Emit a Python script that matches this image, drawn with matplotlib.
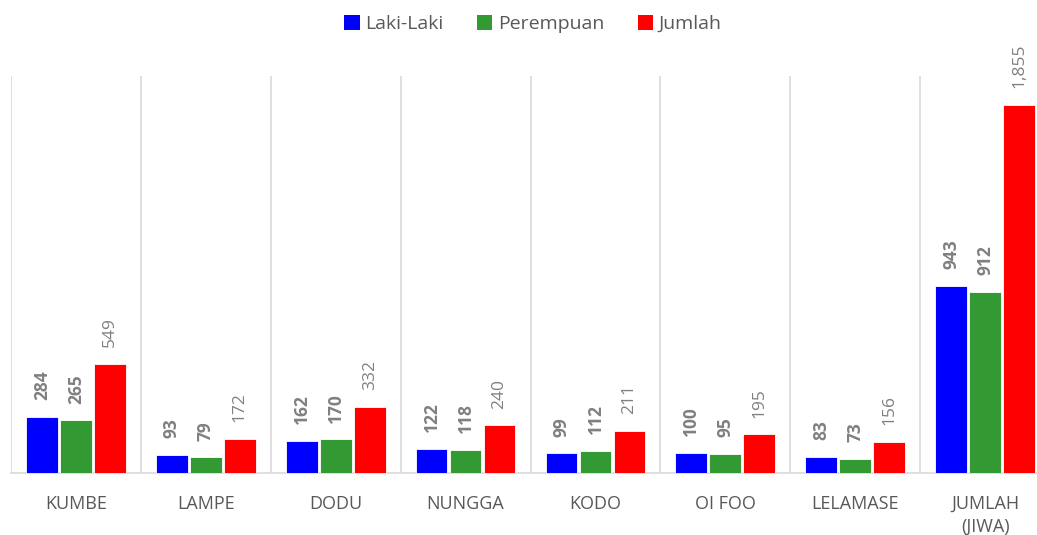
import matplotlib
matplotlib.use("Agg")
import matplotlib.pyplot as plt
from matplotlib.patches import Patch
import numpy as np

categories = ["KUMBE", "LAMPE", "DODU", "NUNGGA", "KODO", "OI FOO", "LELAMASE", "JUMLAH\n(JIWA)"]
laki = [284, 93, 162, 122, 99, 100, 83, 943]
perempuan = [265, 79, 170, 118, 112, 95, 73, 912]
jumlah = [549, 172, 332, 240, 211, 195, 156, 1855]
series_names = ["Laki-Laki", "Perempuan", "Jumlah"]
colors = ["#0000FF", "#339933", "#FF0000"]

plt.rcParams['font.family'] = ['Open Sans', 'DejaVu Sans']

fig = plt.figure(figsize=(10.37, 5.35), dpi=100)
ax = fig.add_axes([11/1037, 1 - 473/535, (1050 - 11)/1037, (473 - 76)/535])

x = np.arange(len(categories))
w = 0.245
sp = 0.262
for i, (vals, col) in enumerate(zip([laki, perempuan, jumlah], colors)):
    ax.bar(x + (i - 1) * sp, vals, width=w, color=col, edgecolor="white", linewidth=0.6, zorder=3)
    for xi, v in zip(x + (i - 1) * sp, vals):
        ax.annotate(f"{v:,}", (xi, v), xytext=(0, 12), textcoords="offset points",
                    rotation=90, ha="center", va="bottom", fontsize=12.5,
                    fontweight="bold" if i < 2 else "normal", color="#808080")

ax.set_xlim(-0.5, len(categories) - 0.5)
ax.set_ylim(0, 2000)
for b in np.arange(-0.5, len(categories), 1.0):
    ax.axvline(b, color="#d9d9d9", linewidth=1.2, zorder=1)
for s in ["top", "right", "left"]:
    ax.spines[s].set_visible(False)
ax.spines["bottom"].set_color("#d9d9d9")
ax.spines["bottom"].set_linewidth(1.2)
ax.set_yticks([])
ax.set_xticks(x)
ax.set_xticklabels(categories, fontsize=13, color="#595959", linespacing=1.3)
ax.tick_params(axis="x", length=0, pad=16)

handles = [Patch(facecolor=c, edgecolor="none") for c in colors]
fig.legend(handles, series_names, loc="center", bbox_to_anchor=(533/1037, 1 - 24/535), ncol=3,
           frameon=False, fontsize=14, labelcolor="#595959", handlelength=0.8, handleheight=0.8,
           handletextpad=0.3, columnspacing=1.7)

fig.savefig("out.png", dpi=100)
